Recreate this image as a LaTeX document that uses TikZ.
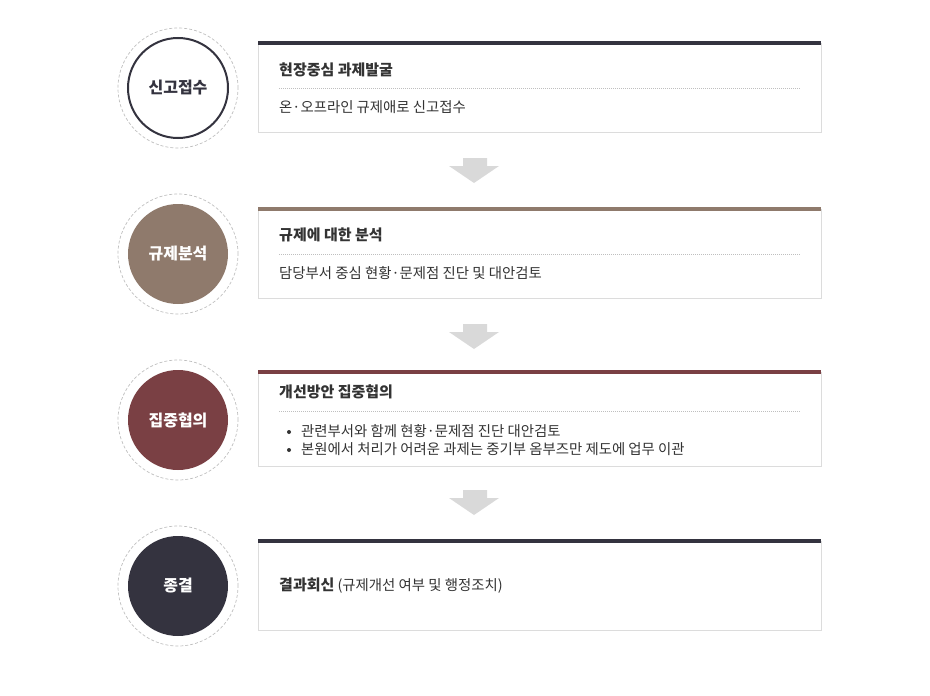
\documentclass[tikz,border=0pt]{standalone}
\usepackage{fontspec}
\setmainfont{Noto Sans CJK KR}
\usetikzlibrary{positioning}
\definecolor{cdark}{HTML}{34333F}
\definecolor{cbrown}{HTML}{8F7A6C}
\definecolor{cwine}{HTML}{7A4044}
\definecolor{cgray}{HTML}{D9D9D9}
\definecolor{cborder}{HTML}{DCDCDC}
\definecolor{ctext}{HTML}{333333}
\tikzset{
  x=1pt, y=-1pt,
  outerring/.style={circle, draw=black!25, dash pattern=on 3pt off 2pt, line width=0.7pt, minimum size=120pt, inner sep=0pt},
  stepcircle/.style={circle, minimum size=100pt, inner sep=0pt, font=\fontsize{16}{18}\selectfont\bfseries},
  boxframe/.style={draw=cborder, line width=1pt, fill=white},
  titletext/.style={anchor=west, inner sep=0pt, text=ctext, font=\fontsize{15}{18}\selectfont\bfseries},
  bodytext/.style={anchor=west, inner sep=0pt, text=ctext, font=\fontsize{14.4}{17}\selectfont},
  dotline/.style={draw=black!25, line width=0.5pt, dash pattern=on 1pt off 1pt},
  downarrow/.style={fill=cgray, draw=none}
}
\begin{document}
\begin{tikzpicture}
\useasboundingbox (0,0) rectangle (930,696);
% circles
\foreach \cy/\nm in {88/a,254/b,420/c,586/d}{
  \node[outerring] (ring\nm) at (178,\cy) {};
}
\node[stepcircle, draw=cdark, line width=2pt, fill=white, text=cdark] (c1) at (178,88) {신고접수};
\node[stepcircle, fill=cbrown, text=white] (c2) at (178,254) {규제분석};
\node[stepcircle, fill=cwine, text=white] (c3) at (178,420) {집중협의};
\node[stepcircle, fill=cdark, text=white] (c4) at (178,586) {종결};
% boxes
\draw[boxframe] (258,43) rectangle (821,132);
\fill[cdark] (258,41) rectangle (821,45);
\draw[boxframe] (258,209) rectangle (821,298);
\fill[cbrown] (258,207) rectangle (821,211);
\draw[boxframe] (258,372) rectangle (821,466);
\fill[cwine] (258,370) rectangle (821,374);
\draw[boxframe] (258,541) rectangle (821,630);
\fill[cdark] (258,539) rectangle (821,543);
% box 1
\node[titletext] (t1) at (279,70) {현장중심 과제발굴};
\draw[dotline] (279,88) -- (800,88);
\node[bodytext] (b1) at (279,107) {온·오프라인 규제애로 신고접수};
% box 2
\node[titletext] (t2) at (279,235) {규제에 대한 분석};
\draw[dotline] (279,254) -- (800,254);
\node[bodytext] (b2) at (279,273) {담당부서 중심 현황·문제점 진단 및 대안검토};
% box 3
\node[titletext] (t3) at (279,392) {개선방안 집중협의};
\draw[dotline] (279,411) -- (800,411);
\fill[ctext] (289,432) circle (2);
\fill[ctext] (289,450) circle (2);
\node[bodytext] (b3a) at (301,431) {관련부서와 함께 현황·문제점 진단 대안검토};
\node[bodytext] (b3b) at (301,449) {본원에서 처리가 어려운 과제는 중기부 옴부즈만 제도에 업무 이관};
% box 4
\node[bodytext] (b4) at (279,586) {\textbf{\fontsize{15}{18}\selectfont 결과회신} (규제개선 여부 및 행정조치)};
% arrows
\foreach \ay in {158,324,490}{
  \fill[downarrow] (463,\ay) -- (487,\ay) -- (487,\ay+8) -- (499,\ay+8) -- (474,\ay+25) -- (449,\ay+8) -- (463,\ay+8) -- cycle;
}
\end{tikzpicture}
\end{document}
